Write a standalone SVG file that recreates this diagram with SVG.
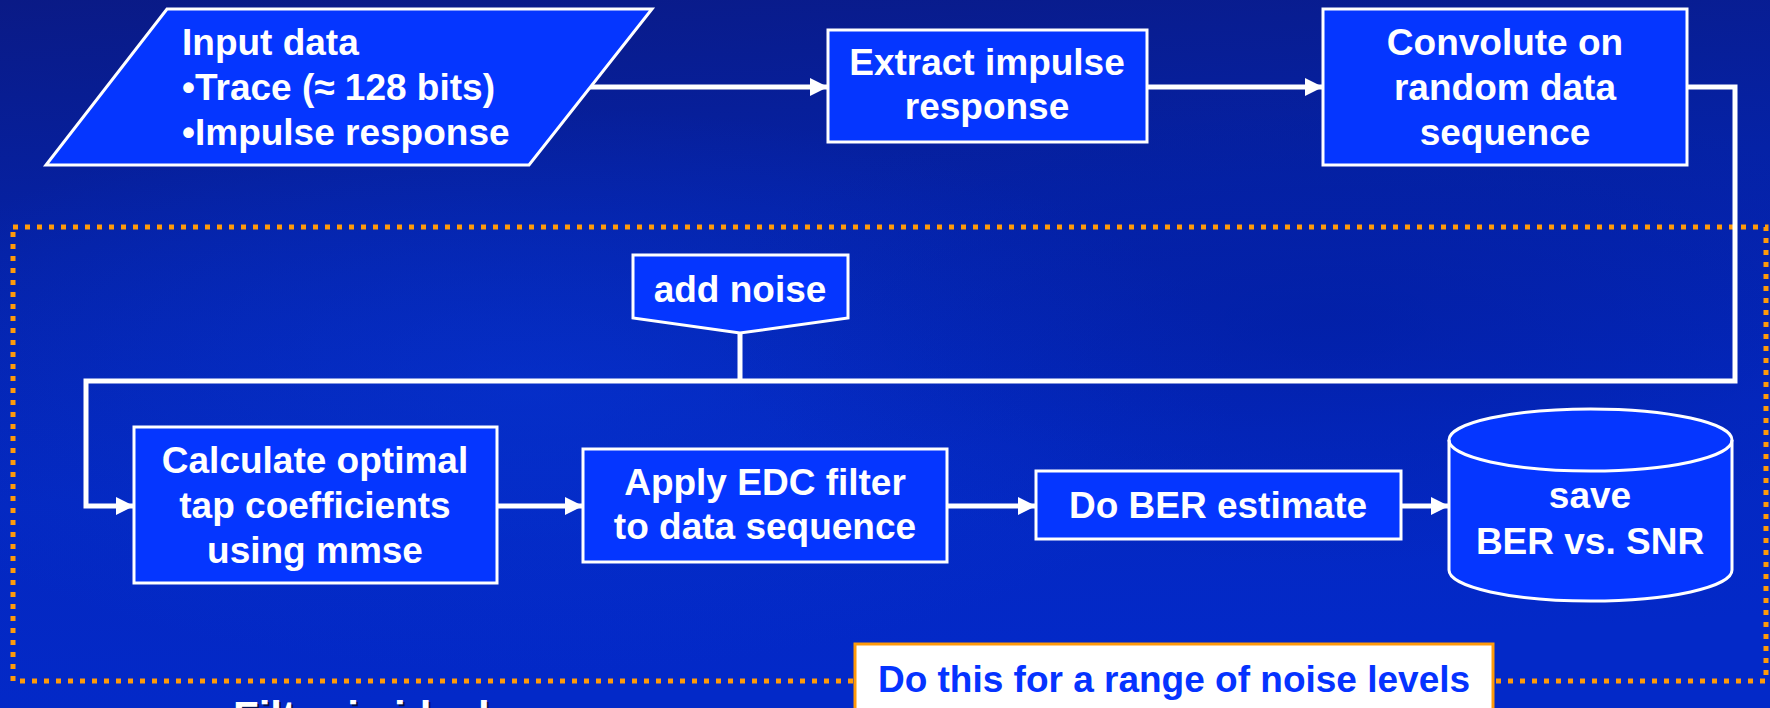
<svg xmlns="http://www.w3.org/2000/svg" width="1770" height="708" viewBox="0 0 1770 708">
  <defs>
    <linearGradient id="bg" x1="0" y1="0" x2="0.15" y2="1">
      <stop offset="0" stop-color="#0a1a86"/>
      <stop offset="0.35" stop-color="#0522a6"/>
      <stop offset="0.7" stop-color="#0428c0"/>
      <stop offset="1" stop-color="#0329c8"/>
    </linearGradient>
    <radialGradient id="tex1" cx="0.3" cy="0.55" r="0.4">
      <stop offset="0" stop-color="#0636d8" stop-opacity="0.5"/>
      <stop offset="1" stop-color="#0636d8" stop-opacity="0"/>
    </radialGradient>
    <radialGradient id="tex2" cx="0.75" cy="0.45" r="0.35">
      <stop offset="0" stop-color="#001a9a" stop-opacity="0.45"/>
      <stop offset="1" stop-color="#001a9a" stop-opacity="0"/>
    </radialGradient>
    <marker id="arrow" markerUnits="userSpaceOnUse" markerWidth="18" markerHeight="18" refX="18" refY="9" orient="auto">
      <path d="M0,0 L18,9 L0,18 z" fill="#ffffff"/>
    </marker>
    <style>
      .box { fill: #0536ff; stroke: #ffffff; stroke-width: 3; }
      .t { font-family: "Liberation Sans", Arial, sans-serif; font-weight: bold; font-size: 37px; fill: #ffffff; }
      .c { text-anchor: middle; }
      .conn { fill: none; stroke: #ffffff; stroke-width: 5; }
      .dotted { fill: none; stroke: #ff9a0a; stroke-width: 5; stroke-dasharray: 5 7; }
    </style>
  </defs>

  <rect x="0" y="0" width="1770" height="708" fill="url(#bg)"/>
  <rect x="0" y="0" width="1770" height="708" fill="url(#tex1)"/>
  <rect x="0" y="0" width="1770" height="708" fill="url(#tex2)"/>

  <!-- noise loop region -->
  <rect id="loop-region" class="dotted" x="13" y="227" width="1753" height="454"/>

  <g id="connectors">
    <path class="conn" d="M590,87 H828" marker-end="url(#arrow)"/>
    <path class="conn" d="M1147,87 H1323" marker-end="url(#arrow)"/>
    <path class="conn" d="M1687,87 H1735 V381 H86 V506 H134" marker-end="url(#arrow)"/>
    <path class="conn" d="M740,333 V381"/>
    <path class="conn" d="M497,506 H583" marker-end="url(#arrow)"/>
    <path class="conn" d="M947,506 H1036" marker-end="url(#arrow)"/>
    <path class="conn" d="M1401,506 H1449" marker-end="url(#arrow)"/>
  </g>

  <g id="input-data">
    <polygon class="box" points="167,9 652,9 529,165 46,165"/>
    <text class="t" x="182" y="55">Input data</text>
    <text class="t" x="182" y="100">•Trace (≈ 128 bits)</text>
    <text class="t" x="182" y="145">•Impulse response</text>
  </g>

  <g id="extract">
    <rect class="box" x="828" y="30" width="319" height="112"/>
    <text class="t c" x="987" y="75">Extract impulse</text>
    <text class="t c" x="987" y="119">response</text>
  </g>

  <g id="convolute">
    <rect class="box" x="1323" y="9" width="364" height="156"/>
    <text class="t c" x="1505" y="55">Convolute on</text>
    <text class="t c" x="1505" y="100">random data</text>
    <text class="t c" x="1505" y="145">sequence</text>
  </g>

  <g id="add-noise">
    <polygon class="box" points="633,255 848,255 848,318 740,333 633,318"/>
    <text class="t c" x="740" y="302">add noise</text>
  </g>

  <g id="calculate">
    <rect class="box" x="134" y="427" width="363" height="156"/>
    <text class="t c" x="315" y="473">Calculate optimal</text>
    <text class="t c" x="315" y="518">tap coefficients</text>
    <text class="t c" x="315" y="563">using mmse</text>
  </g>

  <g id="apply">
    <rect class="box" x="583" y="449" width="364" height="113"/>
    <text class="t c" x="765" y="495">Apply EDC filter</text>
    <text class="t c" x="765" y="539">to data sequence</text>
  </g>

  <g id="ber-estimate">
    <rect class="box" x="1036" y="471" width="365" height="68"/>
    <text class="t c" x="1218" y="518">Do BER estimate</text>
  </g>

  <g id="save">
    <path class="box" d="M1449,440 V570 A141.5,31 0 0 0 1732,570 V440 A141.5,31 0 0 0 1449,440 z"/>
    <path fill="none" stroke="#ffffff" stroke-width="3" d="M1449,440 A141.5,31 0 0 0 1732,440"/>
    <text class="t c" x="1590" y="508">save</text>
    <text class="t c" x="1590" y="554">BER vs. SNR</text>
  </g>

  <g id="range-note">
    <rect x="855" y="644" width="638" height="80" fill="#ffffff" stroke="#ff9a0a" stroke-width="3"/>
    <text class="t c" x="1174" y="692" style="fill:#0533ff">Do this for a range of noise levels</text>
  </g>

  <g id="filter-note">
    <text class="t" x="235" y="733" style="font-size:42px; fill:#000000; opacity:0.6">Filter is ideal</text>
    <text class="t" x="233" y="731" style="font-size:42px">Filter is ideal</text>
  </g>
</svg>
